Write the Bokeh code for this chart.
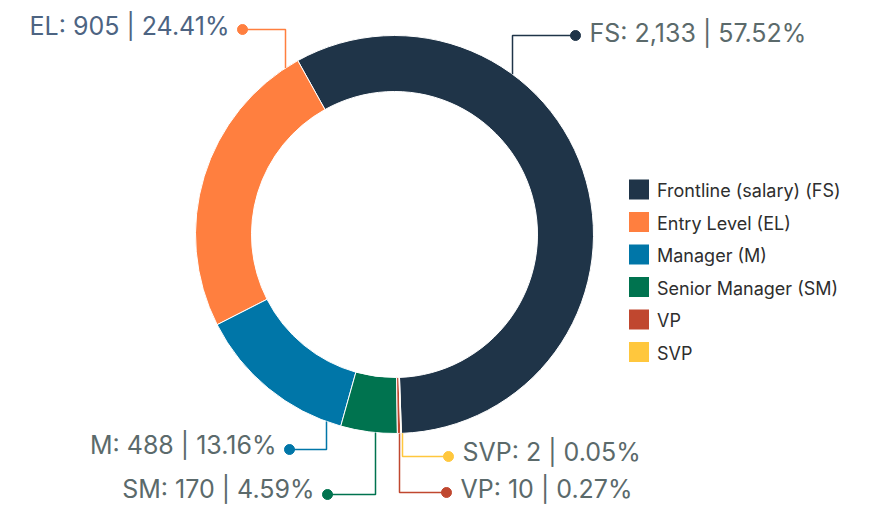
import numpy as np
from bokeh.plotting import figure
from bokeh.models import Range1d
from bokeh.core.properties import value
from bokeh.embed import file_html
from bokeh.resources import INLINE

# Headcount by job level
abbrs = ["FS", "EL", "M", "SM", "VP", "SVP"]
names = ["Frontline (salary) (FS)", "Entry Level (EL)", "Manager (M)",
         "Senior Manager (SM)", "VP", "SVP"]
counts = [2133, 905, 488, 170, 10, 2]
percents = [57.52, 24.41, 13.16, 4.59, 0.27, 0.05]
colors = ["#1f3448", "#ff7f3f", "#0076a8", "#00734f", "#c0472f", "#ffc73d"]

W, H = 890, 505
p = figure(width=W, height=H, x_range=Range1d(0, W), y_range=Range1d(-H, 0),
           output_backend="svg", toolbar_location=None, min_border=0)
p.axis.visible = False
p.grid.visible = False
p.outline_line_color = None
p.background_fill_color = "white"

# Donut geometry (screen y grows downward, so plot y = -screen y)
cx, cy = 394, -234
r_in, r_out = 143, 199
start = np.deg2rad(-88.0)

vals = np.array(counts, dtype=float)
frac = vals / vals.sum()
ends = start + 2 * np.pi * np.cumsum(frac)
starts = np.concatenate([[start], ends[:-1]])

p.annular_wedge(x=cx, y=cy, inner_radius=r_in, outer_radius=r_out,
                start_angle=list(starts), end_angle=list(ends),
                fill_color=colors, line_color="white", line_width=1)

# Callout layout: vertical leader x, dot position, text middle, text side
leader_x = [512, 285, 326, 375, 399, 402]
dot_xy = [(575, -35), (242, -29), (289, -449), (327, -494), (446, -492), (448, -456)]
text_mid = [-32, -25, -444, -488, -488, -451]
side = ["right", "left", "left", "left", "right", "right"]
label_colors = ["#5b6a6b", "#4d6482", "#5b6a6b", "#5b6a6b", "#5b6a6b", "#5b6a6b"]

for i in range(len(abbrs)):
    lx = leader_x[i]
    dx, dy = dot_xy[i]
    # where the leader meets the outer rim
    off = np.sqrt(max(r_out ** 2 - (lx - cx) ** 2, 0))
    ry = cy + off if dy > cy else cy - off
    p.line([lx, lx, dx], [ry, dy, dy], line_color=colors[i], line_width=1.5)
    p.scatter([dx], [dy], size=10, fill_color=colors[i], line_color=colors[i])
    txt = f"{abbrs[i]}: {counts[i]:,} | {percents[i]:.2f}%"
    if side[i] == "right":
        tx, align = dx + 14, "left"
    else:
        tx, align = dx - 13, "right"
    p.text([tx], [text_mid[i]], text=[txt], text_font=value("Inter"),
           text_font_size="25px", text_color=label_colors[i],
           text_align=align, text_baseline="middle")

# Legend
leg_x, leg_y0, leg_step = 638.5, -189, -32.5
ly = [leg_y0 + k * leg_step for k in range(len(names))]
p.rect(x=[leg_x] * len(names), y=ly, width=20, height=20,
       fill_color=colors, line_color=None)
p.text(x=[leg_x + 18] * len(names), y=[v - 1 for v in ly], text=names,
       text_font=value("Inter"), text_font_size="18px", text_color="#2e2e2e",
       text_align="left", text_baseline="middle")

open("out.html", "w").write(file_html(p, INLINE))
